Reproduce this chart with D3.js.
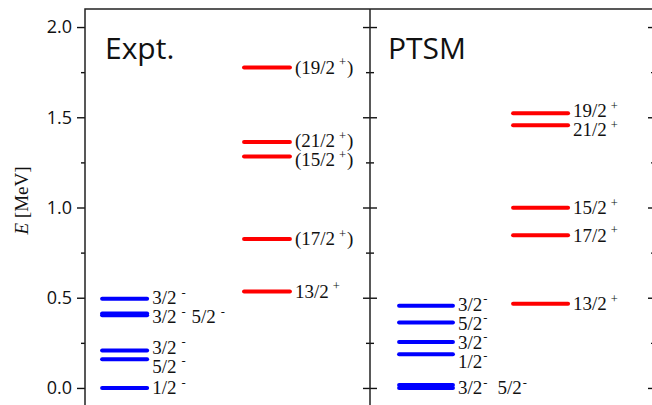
<!DOCTYPE html>
<html>
<head>
<meta charset="utf-8">
<script src="https://cdn.jsdelivr.net/npm/d3@7"></script>
<style>
  body { margin: 0; background: #fff; }
  svg { display: block; }
</style>
</head>
<body>
<svg id="chart"></svg>
<script>
// ---- data (energies in MeV) ----
const yTicks = [0.0, 0.5, 1.0, 1.5, 2.0];
const yMinorTicks = [0.25, 0.75, 1.25, 1.75];
const panelTitles = ['Expt.', 'PTSM'];

const exptNegE = [0.000, 0.159, 0.207, 0.403, 0.412, 0.494];
const exptNegJ = ['1/2', '5/2', '3/2', '3/2', '5/2', '3/2'];

const exptPosE = [0.535, 0.826, 1.282, 1.363, 1.776];
const exptPosJ = ['13/2', '17/2', '15/2', '21/2', '19/2'];
const exptPosTentative = [false, true, true, true, true];

const ptsmNegE = [0.000, 0.016, 0.187, 0.254, 0.363, 0.456];
const ptsmNegJ = ['3/2', '5/2', '1/2', '3/2', '5/2', '3/2'];

const ptsmPosE = [0.467, 0.846, 0.998, 1.456, 1.522];
const ptsmPosJ = ['13/2', '17/2', '15/2', '21/2', '19/2'];

// ---- layout ----
const width = 652, height = 405;
const plotLeft = 85, plotMid = 370, plotRight = 655, plotTop = 9, plotBottom = 406;

const svg = d3.select('#chart')
              .attr('width', width)
              .attr('height', height);

const y = d3.scaleLinear()
            .domain([-0.1, 2.1])
            .range([plotBottom, plotTop]);

const panelX = [
  d3.scaleLinear().domain([0, 1]).range([plotLeft, plotMid]),
  d3.scaleLinear().domain([0, 1]).range([plotMid, plotRight])
];

const columns = [
  { panel: 0, span: [0.053, 0.225], E: exptNegE, J: exptNegJ, parity: '-', color: '#0000ff', supGap: 5, tentative: null },
  { panel: 0, span: [0.551, 0.726], E: exptPosE, J: exptPosJ, parity: '+', color: '#ff0000', supGap: 4, tentative: exptPosTentative },
  { panel: 1, span: [0.095, 0.298], E: ptsmNegE, J: ptsmNegJ, parity: '-', color: '#0000ff', supGap: 1, tentative: null },
  { panel: 1, span: [0.495, 0.702], E: ptsmPosE, J: ptsmPosJ, parity: '+', color: '#ff0000', supGap: 4, tentative: null }
];

// ---- axes ----
function addAxis(axis, x, labels) {
  const g = svg.append('g')
    .attr('transform', 'translate(' + x + ',0)')
    .call(axis);
  g.selectAll('line').attr('stroke', '#111').attr('stroke-width', 1.4);
  g.select('.domain').remove();
  if (!labels) g.selectAll('text').remove();
  return g;
}

const leftMajor = addAxis(d3.axisLeft(y).tickValues(yTicks).tickSize(8).tickPadding(5)
                            .tickFormat(d3.format('.1f')), plotLeft, true);
leftMajor.selectAll('text')
  .attr('font-family', '"Open Sans", sans-serif')
  .attr('font-size', '18px')
  .attr('fill', '#111');
addAxis(d3.axisLeft(y).tickValues(yMinorTicks).tickSize(4), plotLeft, false);

// middle divider: ticks on both sides
addAxis(d3.axisLeft(y).tickValues(yTicks).tickSize(7), plotMid, false);
addAxis(d3.axisRight(y).tickValues(yTicks).tickSize(7), plotMid, false);
addAxis(d3.axisLeft(y).tickValues(yMinorTicks).tickSize(4), plotMid, false);
addAxis(d3.axisRight(y).tickValues(yMinorTicks).tickSize(4), plotMid, false);

// right frame: inward ticks
addAxis(d3.axisRight(y).tickValues(yTicks).tickSize(-7), plotRight, false);
addAxis(d3.axisRight(y).tickValues(yMinorTicks).tickSize(-4), plotRight, false);

// frame lines
const frame = svg.append('g').attr('stroke', '#222').attr('stroke-width', 1.5).attr('fill', 'none');
frame.append('rect')
  .attr('x', plotLeft).attr('y', plotTop)
  .attr('width', plotRight - plotLeft).attr('height', plotBottom - plotTop);
frame.append('line')
  .attr('x1', plotMid).attr('x2', plotMid)
  .attr('y1', plotTop).attr('y2', plotBottom);

// y title
const yTitle = svg.append('text')
  .attr('transform', 'translate(28,' + (y(1.0) - 7) + ') rotate(-90)')
  .attr('text-anchor', 'middle')
  .attr('font-family', '"Liberation Serif", serif')
  .attr('font-size', '19px')
  .attr('fill', '#111');
yTitle.append('tspan').attr('font-style', 'italic').text('E');
yTitle.append('tspan').text(' [MeV]');

// panel titles
panelTitles.forEach((t, i) => {
  svg.append('text')
    .attr('x', panelX[i](0) + (i === 0 ? 20 : 18))
    .attr('y', 59)
    .attr('font-family', '"Open Sans", sans-serif')
    .attr('font-size', '30px')
    .attr('fill', '#111')
    .text(t);
});

// ---- levels and labels ----
function spreadLabels(ys, minGap) {
  const out = ys.slice();
  for (let iter = 0; iter < 50; iter++) {
    for (let i = 0; i < out.length - 1; i++) {
      // out sorted by y descending (bottom first)
      const gap = out[i] - out[i + 1];
      if (gap < minGap) {
        const need = minGap - gap;
        out[i] += need * 2 / 3;
        out[i + 1] -= need / 3;
      }
    }
  }
  return out;
}

function writeLabel(x, baseY, col, j, tentative) {
  const t = svg.append('text')
    .attr('x', x)
    .attr('y', baseY)
    .attr('font-family', '"Liberation Serif", serif')
    .attr('font-size', '19px')
    .attr('fill', '#111');
  t.append('tspan').text((tentative ? '(' : '') + j);
  t.append('tspan')
    .attr('dx', col.supGap)
    .attr('dy', -7.5)
    .attr('font-size', '12.5px')
    .text(col.parity);
  if (tentative) {
    t.append('tspan').attr('dx', 1).attr('dy', 7.5).text(')');
  }
  return t;
}

columns.forEach(col => {
  const xs = panelX[col.panel];
  const x0 = xs(col.span[0]), x1 = xs(col.span[1]);
  const levels = col.E.map((e, i) => ({
    E: e, J: col.J[i], tentative: col.tentative ? col.tentative[i] : false
  })).sort((a, b) => a.E - b.E);

  svg.append('g')
    .selectAll('line')
    .data(levels)
    .enter()
      .append('line')
      .attr('x1', x0 + 2)
      .attr('x2', x1 - 2)
      .attr('y1', d => y(d.E))
      .attr('y2', d => y(d.E))
      .attr('stroke', col.color)
      .attr('stroke-width', 4)
      .attr('stroke-linecap', 'round');

  // group (nearly) degenerate levels: one label row
  const groups = [];
  levels.forEach(l => {
    const last = groups[groups.length - 1];
    if (last && Math.abs(y(l.E) - y(last[0].E)) < 4) last.push(l);
    else groups.push([l]);
  });

  const labelY = spreadLabels(groups.map(g => y(g[0].E)), 19);

  groups.forEach((g, gi) => {
    let lx = x1 + 3;
    g.forEach(l => {
      const t = writeLabel(lx, labelY[gi] + 6.5, col, l.J, l.tentative);
      lx += t.node().getComputedTextLength() + 11;
    });
  });
});
</script>
</body>
</html>
